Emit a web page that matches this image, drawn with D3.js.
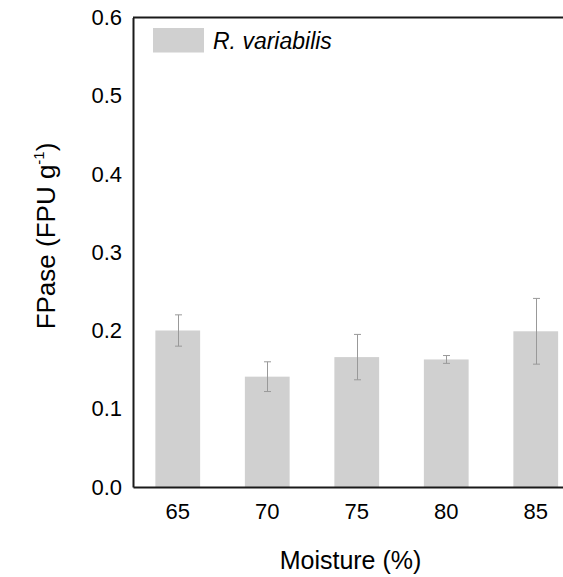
<!DOCTYPE html>
<html>
<head>
<meta charset="utf-8">
<script src="https://cdn.jsdelivr.net/npm/d3@7"></script>
<style>
  html, body { margin: 0; padding: 0; background: #fff; }
  svg { display: block; font-family: "Liberation Sans", Arial, sans-serif; }
</style>
</head>
<body>
<svg id="chart" width="563" height="577"></svg>
<script>
// Moisture levels (%) and mean FPase activity with standard errors
const categories = ["65", "70", "75", "80", "85"];
const means = [0.200, 0.141, 0.166, 0.163, 0.199];
const errors = [0.020, 0.019, 0.029, 0.005, 0.042];
const yTicks = [0.0, 0.1, 0.2, 0.3, 0.4, 0.5, 0.6];
const seriesName = "R. variabilis";

const svg = d3.select("#chart");
const plotLeft = 133, plotRight = 580.5, plotTop = 17.5, plotBottom = 487;

const x = d3.scaleBand()
  .domain(categories)
  .range([plotLeft, plotRight])
  .paddingInner(0.5)
  .paddingOuter(0.25);

const y = d3.scaleLinear().domain([0, 0.6]).range([plotBottom, plotTop]);

const barColor = "#d0d0d0";
const axisColor = "#1a1a1a";
const textColor = "#000";

// bars
svg.append("g")
  .selectAll("rect")
  .data(categories)
  .join("rect")
  .attr("x", d => x(d))
  .attr("y", (d, i) => y(means[i]))
  .attr("width", x.bandwidth())
  .attr("height", (d, i) => y(0) - y(means[i]))
  .attr("fill", barColor);

// error bars
const eb = svg.append("g")
  .attr("stroke", "#999")
  .attr("stroke-width", 1)
  .selectAll("g")
  .data(categories)
  .join("g");
const cx = d => Math.round(x(d) + x.bandwidth() / 2) + 0.5;
eb.append("line")
  .attr("x1", cx).attr("x2", cx)
  .attr("y1", (d, i) => y(means[i] + errors[i]))
  .attr("y2", (d, i) => y(means[i] - errors[i]));
eb.append("line")
  .attr("x1", d => cx(d) - 3.5).attr("x2", d => cx(d) + 3.5)
  .attr("y1", (d, i) => y(means[i] + errors[i]))
  .attr("y2", (d, i) => y(means[i] + errors[i]));
eb.append("line")
  .attr("x1", d => cx(d) - 3.5).attr("x2", d => cx(d) + 3.5)
  .attr("y1", (d, i) => y(means[i] - errors[i]))
  .attr("y2", (d, i) => y(means[i] - errors[i]));

// y axis
const yAxis = svg.append("g")
  .attr("transform", `translate(${plotLeft},0)`)
  .call(d3.axisLeft(y).tickValues(yTicks).tickFormat(d3.format(".1f")).tickSize(0).tickPadding(11));
yAxis.selectAll("text").attr("font-size", 22).attr("fill", textColor).attr("font-family", "Liberation Sans, Arial, sans-serif");

// x axis
const xAxis = svg.append("g")
  .attr("transform", `translate(0,${plotBottom})`)
  .call(d3.axisBottom(x).tickSize(0).tickPadding(16));
xAxis.selectAll("text").attr("font-size", 22).attr("fill", textColor).attr("font-family", "Liberation Sans, Arial, sans-serif");

[yAxis, xAxis].forEach(a => a.select(".domain").attr("stroke", axisColor).attr("stroke-width", 2));

// top border of the frame
svg.append("line")
  .attr("x1", plotLeft).attr("x2", plotRight)
  .attr("y1", plotTop).attr("y2", plotTop)
  .attr("stroke", axisColor).attr("stroke-width", 2);

// axis titles
svg.append("text")
  .attr("x", 350.5).attr("y", 569)
  .attr("text-anchor", "middle")
  .attr("font-size", 25)
  .attr("fill", textColor)
  .text("Moisture (%)");

const yTitle = svg.append("text")
  .attr("transform", "translate(55,236) rotate(-90)")
  .attr("text-anchor", "middle")
  .attr("font-size", 26)
  .attr("fill", textColor);
yTitle.append("tspan").text("FPase (FPU g");
yTitle.append("tspan").attr("font-size", 15).attr("dy", -11).text("-1");
yTitle.append("tspan").attr("dy", 11).text(")");

// legend
const legend = svg.append("g");
legend.append("rect")
  .attr("x", 153).attr("y", 28)
  .attr("width", 51).attr("height", 24.5)
  .attr("fill", barColor);
legend.append("text")
  .attr("x", 213).attr("y", 48.5)
  .attr("font-size", 23)
  .attr("font-style", "italic")
  .attr("fill", textColor)
  .text(seriesName);
</script>
</body>
</html>
